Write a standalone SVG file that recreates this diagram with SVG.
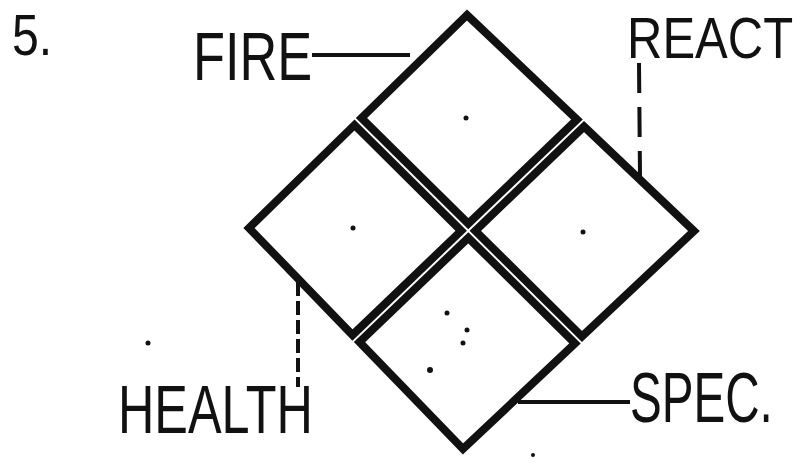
<svg xmlns="http://www.w3.org/2000/svg" width="801" height="465" viewBox="0 0 801 465">
<style>
.q{fill:#fff;stroke:#111;stroke-width:8;stroke-linejoin:miter}
.lbl{font-family:"Liberation Sans",Arial,sans-serif;fill:#111}
.c{stroke:#111;stroke-width:4;fill:none}
.dash{stroke-dasharray:30 14}
.dot{fill:#111}
</style>
<rect width="801" height="465" fill="#fff"/>
<text class="lbl" transform="translate(12,55) scale(0.83,1)" font-size="58">5.</text>
<g id="fire">
<polygon class="q" points="467,15 577,119.5 468.3,223.7 361.5,118"/>
<circle class="dot" cx="466" cy="118" r="2.5"/>
<text class="lbl" transform="translate(193,80) scale(0.77,1)" font-size="68">FIRE</text>
</g>
<g id="react">
<polygon class="q" points="584,126.5 694,231 582,336.5 475.3,230.8"/>
<circle class="dot" cx="583" cy="232" r="2.5"/>
<text class="lbl" transform="translate(627,58) scale(0.86,1)" font-size="57">REACT</text>
</g>
<g id="spec">
<polygon class="q" points="468.3,237.8 575,343.5 463,449 359.5,342"/>
<circle class="dot" cx="447" cy="313" r="2.5"/>
<circle class="dot" cx="467" cy="330" r="2.5"/>
<circle class="dot" cx="463" cy="343" r="2.5"/>
<circle class="dot" cx="430" cy="370" r="3"/>
<text class="lbl" transform="translate(630,422) scale(0.68,1)" font-size="70">SPEC.</text>
</g>
<g id="health">
<polygon class="q" points="354.5,125 461.2,230.8 352.5,335 249,228"/>
<circle class="dot" cx="353" cy="228" r="2.5"/>
<text class="lbl" transform="translate(118,433) scale(0.73,1)" font-size="69">HEALTH</text>
</g>
<g id="connectors">
<line class="c" x1="312" y1="55" x2="410" y2="55"/>
<line class="c dash" x1="639" y1="63" x2="640" y2="176"/>
<line class="c" x1="298" y1="282" x2="298" y2="387" stroke-dasharray="14 5"/>
<line class="c" x1="518" y1="402" x2="630" y2="402"/>
</g>
<circle class="dot" cx="148" cy="343" r="2.5"/>
<circle class="dot" cx="533" cy="455" r="2"/>
</svg>
